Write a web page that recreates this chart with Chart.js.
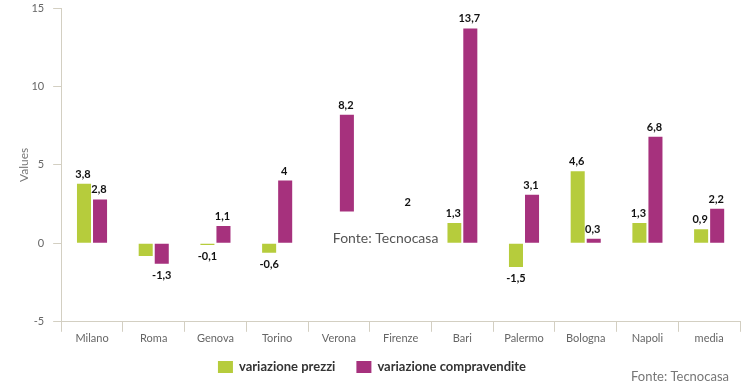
<!DOCTYPE html>
<html lang="it">
<head>
<meta charset="UTF-8">
<title>Variazione prezzi e compravendite</title>
<script src="https://cdn.jsdelivr.net/npm/chart.js"></script>
<style>
  html, body { margin: 0; padding: 0; background: #fff; }
  #wrap { width: 744px; height: 389px; position: relative; }
</style>
</head>
<body>
<div id="wrap"><canvas id="chart"></canvas></div>
<script>
const cities = ['Milano', 'Roma', 'Genova', 'Torino', 'Verona', 'Firenze', 'Bari', 'Palermo', 'Bologna', 'Napoli', 'media'];
const prezzi = [3.8, -0.8, -0.1, -0.6, 0.4, 0.6, 1.3, -1.5, 4.6, 1.3, 0.9];
const compravendite = [2.8, -1.3, 1.1, 4, 8.2, 2, 13.7, 3.1, 0.3, 6.8, 2.2];
// Roma prezzi has no label in the original
const prezziShowLabel = [true, false, true, true, true, true, true, true, true, true, true];
const yTicks = [-5, 0, 5, 10, 15];

const green = '#b6cc3c';
const purple = '#a6317d';
const fontFam = 'Lato, "Open Sans", sans-serif';

// value labels above / below bars
const valueLabels = {
  id: 'valueLabels',
  afterDatasetsDraw(chart) {
    const ctx = chart.ctx;
    ctx.save();
    ctx.font = 'bold 11px ' + fontFam;
    ctx.fillStyle = '#111';
    ctx.textAlign = 'center';
    chart.data.datasets.forEach((ds, di) => {
      const meta = chart.getDatasetMeta(di);
      meta.data.forEach((bar, i) => {
        const v = ds.data[i];
        if (di === 0 && !prezziShowLabel[i]) return;
        const txt = String(v).replace('.', ',');
        if (v >= 0) {
          ctx.textBaseline = 'bottom';
          ctx.fillText(txt, bar.x - 1, bar.y - 4);
        } else {
          ctx.textBaseline = 'top';
          ctx.fillText(txt, bar.x, bar.y + 6);
        }
      });
    });
    ctx.restore();
  }
};

// legend at the bottom, white "Fonte" patch and the source note
const extras = {
  id: 'extras',
  afterDraw(chart) {
    const ctx = chart.ctx;
    const x = chart.scales.x, y = chart.scales.y;
    ctx.save();

    // white patch
    const left = x.getPixelForValue(4) - 18;
    const right = x.getPixelForValue(6) - 15;
    const top = y.getPixelForValue(2.03);
    const bottom = y.getPixelForValue(-0.9);
    ctx.fillStyle = '#fff';
    ctx.fillRect(left, top, right - left, bottom - top);
    ctx.fillStyle = '#555';
    ctx.font = '14px ' + fontFam;
    ctx.textAlign = 'left';
    ctx.textBaseline = 'middle';
    ctx.fillText('Fonte: Tecnocasa', left + 12, y.getPixelForValue(0.3));

    // legend
    const items = chart.data.datasets.map(d => ({ text: d.label, color: d.backgroundColor }));
    ctx.font = 'bold 13px ' + fontFam;
    const boxW = 15, boxH = 12, gapBox = 6, gapItem = 21;
    let total = 0;
    items.forEach((it, k) => {
      it.w = ctx.measureText(it.text).width;
      total += boxW + gapBox + it.w + (k ? gapItem : 0);
    });
    let lx = 372 - total / 2;
    const ly = 367;
    items.forEach(it => {
      ctx.fillStyle = it.color;
      ctx.fillRect(lx, ly - boxH / 2, boxW, boxH);
      ctx.fillStyle = '#333';
      ctx.textBaseline = 'middle';
      ctx.fillText(it.text, lx + boxW + gapBox, ly);
      lx += boxW + gapBox + it.w + gapItem;
    });

    // source note
    ctx.fillStyle = '#777';
    ctx.font = '13px ' + fontFam;
    ctx.textAlign = 'right';
    ctx.fillText('Fonte: Tecnocasa', 729, 377);
    ctx.restore();
  }
};

new Chart(document.getElementById('chart'), {
  type: 'bar',
  data: {
    labels: cities,
    datasets: [
      { label: 'variazione prezzi', data: prezzi, backgroundColor: green },
      { label: 'variazione compravendite', data: compravendite, backgroundColor: purple }
    ]
  },
  options: {
    responsive: true,
    maintainAspectRatio: false,
    animation: false,
    datasets: { bar: { categoryPercentage: 0.52, barPercentage: 0.875 } },
    layout: { padding: { top: 8, right: 4, left: 17, bottom: 44 } },
    scales: {
      x: {
        grid: { drawOnChartArea: false, tickLength: 10, color: '#d3cfc2' },
        border: { color: '#d3cfc2' },
        ticks: { color: '#666', font: { family: fontFam, size: 11 }, padding: 0 }
      },
      y: {
        min: -5,
        max: 15,
        afterBuildTicks(axis) { axis.ticks = yTicks.map(v => ({ value: v })); },
        afterFit(axis) { axis.paddingTop = 0; },
        grid: { drawOnChartArea: false, tickLength: 8, color: '#d3cfc2' },
        border: { color: '#d3cfc2' },
        ticks: { color: '#666', font: { family: fontFam, size: 11 }, padding: 9 },
        title: { display: true, text: 'Values', color: '#777', font: { family: fontFam, size: 12 }, padding: { top: 0, bottom: -9 } }
      }
    },
    plugins: {
      legend: { display: false },
      tooltip: { enabled: false }
    }
  },
  plugins: [valueLabels, extras]
});
</script>
</body>
</html>
